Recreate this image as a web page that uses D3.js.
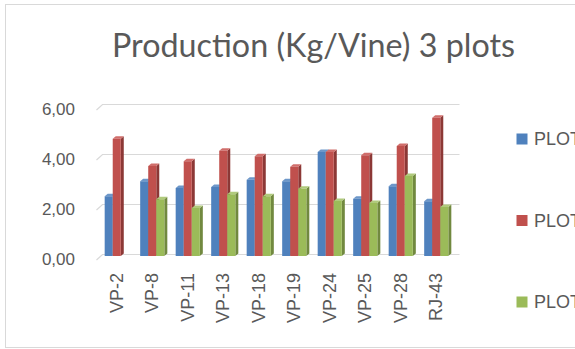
<!DOCTYPE html>
<html>
<head>
<meta charset="utf-8">
<script src="https://cdn.jsdelivr.net/npm/d3@7"></script>
<style>
  html, body { margin: 0; padding: 0; background: #fff; overflow: hidden; }
  svg { display: block; }
</style>
</head>
<body>
<svg id="chart" width="575" height="349"></svg>
<script>
// Production per vine for each variety, three plots
const categories = ["VP-2", "VP-8", "VP-11", "VP-13", "VP-18", "VP-19", "VP-24", "VP-25", "VP-28", "RJ-43"];
const seriesNames = ["PLOT 1", "PLOT 2", "PLOT 3"];
const plot1 = [2.39, 2.99, 2.72, 2.76, 3.05, 2.99, 4.16, 2.29, 2.79, 2.19];
const plot2 = [4.69, 3.60, 3.79, 4.21, 3.99, 3.57, 4.16, 4.03, 4.40, 5.53];
const plot3 = [0, 2.27, 1.92, 2.47, 2.39, 2.69, 2.20, 2.12, 3.20, 1.96];
const yTicks = [0, 2, 4, 6];
const titleText = "Production (Kg/Vine) 3 plots";

const seriesValues = [plot1, plot2, plot3];
const faceColors = [
  { front: "#4f81bd", side: "#385d8a", top: "#6d97c9" },
  { front: "#c0504d", side: "#8c3836", top: "#d06e6b" },
  { front: "#9bbb59", side: "#71893f", top: "#b0ca7c" }
];

const svg = d3.select("#chart");
const textColor = "#595959";
const gridColor = "#d9d9d9";

// chart area border
svg.append("rect")
  .attr("x", 5.5).attr("y", 4.5)
  .attr("width", 620).attr("height", 343)
  .attr("fill", "#fff").attr("stroke", gridColor).attr("stroke-width", 1);

// title
svg.append("text")
  .attr("x", 112).attr("y", 57)
  .attr("font-family", "Lato, 'Open Sans', sans-serif")
  .attr("font-size", 32)
  .attr("fill", textColor)
  .attr("textLength", 403)
  .attr("lengthAdjust", "spacingAndGlyphs")
  .text(titleText);

// back wall (gridlines) and front (bars) vertical scales
const wallY = d3.scaleLinear().domain([0, 6]).range([253.5, 103.5]);
const barY = d3.scaleLinear().domain([0, 6]).range([256, 106]);
const depthX = 6, depthY = 5.5;   // perspective offset of the wall edge
const wallLeft = 102.5, wallRight = 459.5;

// gridlines with their 3D side edge
const grid = svg.append("g");
yTicks.forEach(t => {
  const y = Math.round(wallY(t)) + 0.5;
  grid.append("path")
    .attr("d", `M${wallLeft - depthX},${y + depthY} L${wallLeft},${y} L${wallRight},${y}`)
    .attr("fill", "none").attr("stroke", gridColor).attr("stroke-width", 1.2);
});

// y tick labels
const fmt = v => v.toFixed(2).replace(".", ",");
svg.append("g").selectAll("text")
  .data(yTicks).join("text")
  .attr("x", 75)
  .attr("y", d => wallY(d) + depthY)
  .attr("text-anchor", "end")
  .attr("dominant-baseline", "central")
  .attr("font-family", "'Liberation Sans', Arial, sans-serif")
  .attr("font-size", 17)
  .attr("fill", textColor)
  .text(fmt);

// category and series scales
const x = d3.scaleBand().domain(categories).range([99, 454]).paddingInner(0.32).paddingOuter(0.16);
const xs = d3.scaleBand().domain(d3.range(seriesNames.length)).range([0, x.bandwidth()]);

// 3D columns: front face, right side, top
const dx = 3, dy = 2.5;
const bars = svg.append("g");
categories.forEach((cat, ci) => {
  seriesValues.forEach((vals, si) => {
    const v = vals[ci];
    if (!v) return;
    const x0 = x(cat) + xs(si);
    const w = xs.bandwidth();
    const yTop = barY(v);
    const yBot = barY(0);
    const c = faceColors[si];
    bars.append("path")
      .attr("d", `M${x0 + w},${yTop} L${x0 + w + dx},${yTop - dy} L${x0 + w + dx},${yBot - dy} L${x0 + w},${yBot} Z`)
      .attr("fill", c.side);
    bars.append("path")
      .attr("d", `M${x0},${yTop} L${x0 + dx},${yTop - dy} L${x0 + w + dx},${yTop - dy} L${x0 + w},${yTop} Z`)
      .attr("fill", c.top);
    bars.append("rect")
      .attr("x", x0).attr("y", yTop)
      .attr("width", w).attr("height", yBot - yTop)
      .attr("fill", c.front);
  });
});

// category labels, rotated
svg.append("g").selectAll("text")
  .data(categories).join("text")
  .attr("transform", d => `translate(${x(d) + x.bandwidth() / 2},273) rotate(-90)`)
  .attr("text-anchor", "end")
  .attr("dominant-baseline", "central")
  .attr("font-family", "'Liberation Sans', Arial, sans-serif")
  .attr("font-size", 18)
  .attr("fill", textColor)
  .text(d => d);

// legend
const legendY = d3.scalePoint().domain(seriesNames).range([139, 302]);
const legend = svg.append("g");
seriesNames.forEach((name, i) => {
  legend.append("rect")
    .attr("x", 516.5).attr("y", legendY(name) - 5.5)
    .attr("width", 11).attr("height", 11)
    .attr("fill", faceColors[i].front);
  legend.append("text")
    .attr("x", 534).attr("y", legendY(name))
    .attr("dominant-baseline", "central")
    .attr("font-family", "'Liberation Sans', Arial, sans-serif")
    .attr("font-size", 18)
    .attr("fill", textColor)
    .text(name);
});
</script>
</body>
</html>
